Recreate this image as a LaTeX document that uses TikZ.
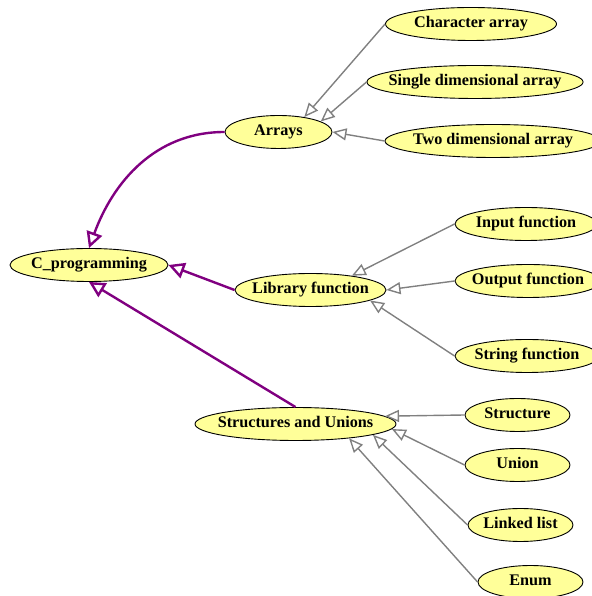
\documentclass[tikz,border=0pt]{standalone}
\usepackage{fontspec}
\setmainfont{Liberation Serif}
\usepackage{tikz}
\usetikzlibrary{shapes.geometric,arrows.meta}
\definecolor{nodeyellow}{RGB}{255,255,153}
\definecolor{linkpurple}{RGB}{128,0,128}
\definecolor{linkgray}{RGB}{128,128,128}
\tikzstyle{topic} = [ellipse, draw=black, line width=0.9pt, fill=nodeyellow, minimum height=33pt, inner xsep=-10pt, inner ysep=2pt, text height=11pt, text depth=3.5pt, font=\fontsize{16.2}{18}\selectfont\bfseries]
\tikzstyle{main} = [draw=linkpurple, line width=2.4pt, -{Triangle[open, length=16pt, width=16pt, line width=2.4pt]}]
\tikzstyle{sub} = [draw=linkgray, line width=1.4pt, -{Triangle[open, length=14pt, width=12pt, line width=1.4pt]}]

\begin{document}
\begin{tikzpicture}[x=1pt, y=1pt]

            \useasboundingbox (0,0) rectangle (591,596);

            %% root and its three topics

            \node (cprog) [topic, minimum width=158pt] at (89,331) {C\_programming};
            \node (arrays) [topic, minimum width=107pt] at (278.5,464) {Arrays};
            \node (libfn) [topic, minimum width=151pt] at (310.5,306) {Library function};
            \node (sunion) [topic, minimum width=201pt] at (295.5,172) {Structures and Unions};

            \draw [main] (arrays.west) to[out=180, in=70] (cprog.north);
            \draw [main] (libfn.west) -- (cprog.east);
            \draw [main] (sunion.north) -- (cprog.south);

            %% arrays

            \node (chararr) [topic, minimum width=171pt] at (471,572) {Character array};
            \node (singlearr) [topic, minimum width=216pt] at (475,514) {Single dimensional array};
            \node (twoarr) [topic, minimum width=216pt] at (493,455) {Two dimensional array};

            \draw [sub] (chararr.west) -- (arrays.30);
            \draw [sub] (singlearr.west) -- (arrays.14);
            \draw [sub] (twoarr.west) -- (arrays.east);

            %% library functions

            \node (inputfn) [topic, minimum width=142pt] at (526,372) {Input function};
            \node (outputfn) [topic, minimum width=146pt] at (528,315) {Output function};
            \node (stringfn) [topic, minimum width=144pt] at (527,240) {String function};

            \draw [sub] (inputfn.west) -- (libfn.19);
            \draw [sub] (outputfn.west) -- (libfn.east);
            \draw [sub] (stringfn.west) -- (libfn.-10);

            %% structures and unions

            \node (structure) [topic, minimum width=105pt] at (517.5,181) {Structure};
            \node (union) [topic, minimum width=105pt] at (517.5,131) {Union};
            \node (linked) [topic, minimum width=105pt] at (520.5,71) {Linked list};
            \node (enum) [topic, minimum width=105pt] at (530.5,14) {Enum};

            \draw [sub] (structure.west) -- (sunion.5);
            \draw [sub] (union.west) -- (sunion.-3);
            \draw [sub] (linked.west) -- (sunion.-8);
            \draw [sub] (enum.west) -- (sunion.-15);

\end{tikzpicture}
\end{document}
